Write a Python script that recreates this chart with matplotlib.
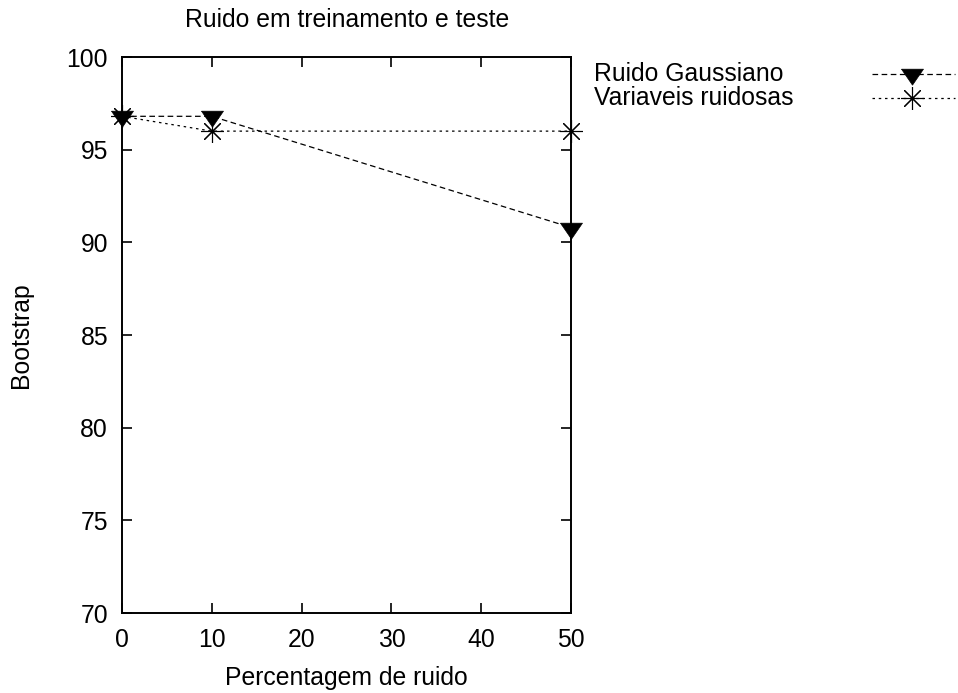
import matplotlib
matplotlib.use("Agg")
import matplotlib.pyplot as plt
from matplotlib.lines import Line2D

plt.rcParams['font.family'] = ['Liberation Sans', 'DejaVu Sans']

# data
noise_pct = [0, 10, 50]
gauss = [96.8, 96.8, 90.8]
noisy_vars = [96.8, 96.0, 96.0]
series_names = ['Ruido Gaussiano', 'Variaveis ruidosas']
x_ticks = [0, 10, 20, 30, 40, 50]
y_ticks = [70, 75, 80, 85, 90, 95, 100]

# gnuplot style down triangle, centred on its centroid
tri = [(-11, 5.33), (11, 5.33), (0, -10.67), (-11, 5.33)]
star = (8, 2, 0)

fs = 17.8
fig = plt.figure(figsize=(9.58, 6.93), dpi=100)
ax = fig.add_axes([122/958, 1 - 613/693, (571 - 122)/958, (613 - 57)/693])

ax.plot(noise_pct, gauss, color='black', lw=0.9, dashes=(4.5, 2.8),
        marker=tri, ms=15.8, mfc='black', mec='black', mew=0.5, clip_on=False)
ax.plot(noise_pct, noisy_vars, color='black', lw=0.9, dashes=(2.0, 3.0),
        marker=star, ms=16.5, mec='black', mew=0.8, clip_on=False)

ax.set_xlim(0, 50)
ax.set_ylim(70, 100)
ax.set_xticks(x_ticks)
ax.set_yticks(y_ticks)
ax.tick_params(direction='in', length=7, width=1.2, top=True, right=True,
               labelsize=fs)
ax.tick_params(axis='x', pad=11)
ax.tick_params(axis='y', pad=10)
for s in ax.spines.values():
    s.set_linewidth(1.4)

ax.set_xlabel('Percentagem de ruido', fontsize=fs, labelpad=10)
ax.set_ylabel('Bootstrap', fontsize=fs, labelpad=24)
fig.text(347/958, 1 - 20/693, 'Ruido em treinamento e teste',
         ha='center', va='center', fontsize=fs)

# legend drawn gnuplot style: text on the left, sample on the right
styles = [dict(dashes=(4.5, 2.8), marker=tri, ms=15.8, mfc='black', mew=0.5),
          dict(dashes=(2.0, 3.0), marker=star, ms=16.5, mew=0.8)]
rows_y = [74, 98]
for name, st, yp in zip(series_names, styles, rows_y):
    yf = 1 - yp/693
    fig.text(594/958, yf, name, ha='left', va='center', fontsize=fs)
    fig.add_artist(Line2D([872/958, 955/958], [yf, yf], color='black', lw=0.9,
                          transform=fig.transFigure,
                          dashes=st['dashes']))
    fig.add_artist(Line2D([912/958], [yf], color='black', ls='none',
                          marker=st['marker'], ms=st['ms'],
                          mfc=st.get('mfc', 'none'), mec='black', mew=st['mew'],
                          transform=fig.transFigure))

fig.savefig('out.png', dpi=100)
